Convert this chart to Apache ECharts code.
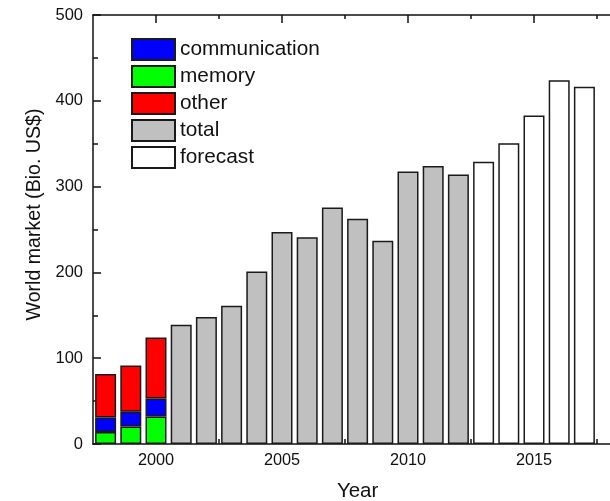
<!DOCTYPE html>
<html>
<head>
<meta charset="utf-8">
<script src="https://cdn.jsdelivr.net/npm/echarts@6/dist/echarts.min.js"></script>
<style>
  html, body { margin: 0; padding: 0; background: #fff; }
  #chart { width: 610px; height: 501px; }
</style>
</head>
<body>
<div id="chart"></div>
<script>
// Semiconductor world market by segment, billions of US$
const years = [1998, 1999, 2000, 2001, 2002, 2003, 2004, 2005, 2006, 2007,
               2008, 2009, 2010, 2011, 2012, 2013, 2014, 2015, 2016, 2017];
const memory        = [14, 20.5, 32, null, null, null, null, null, null, null, null, null, null, null, null, null, null, null, null, null];
const communication = [17, 17, 21, null, null, null, null, null, null, null, null, null, null, null, null, null, null, null, null, null];
const other         = [50.5, 54, 71, null, null, null, null, null, null, null, null, null, null, null, null, null, null, null, null, null];
const total         = [null, null, null, 139, 148, 161, 201, 247, 241, 275.5, 262.5, 237, 317.5, 324, 314, null, null, null, null, null];
const forecast      = [null, null, null, null, null, null, null, null, null, null, null, null, null, null, null, 329, 350.5, 383, 424, 416.5];

const yearTicks  = [2000, 2005, 2010, 2015];
const minorYears = [2002.5, 2007.5, 2012.5, 2017.5];

const FONT = 'Liberation Sans, Arial, sans-serif';
const INK = '#111';

// Plot box: bars live in grid 0 (one band per year), the framed year scale in grid 1
const PLOT = { left: 93, top: 15, bottom: 57, containLabel: false, outerBoundsMode: 'none' };
const YEAR_PX = 25.2;
const barsRight = 610 - (PLOT.left + years.length * YEAR_PX);
const scaleMin = years[0] - 0.5;
const scaleMax = 2018.5;
const scaleRight = 610 - (PLOT.left + (scaleMax - scaleMin) * YEAR_PX);

function barSeries(name, vals, color, stack) {
  return {
    name: name,
    type: 'bar',
    stack: stack,
    xAxisIndex: 0,
    yAxisIndex: 0,
    data: vals,
    barWidth: 21,
    barGap: '-100%',
    itemStyle: { color: color, borderColor: '#1a1a1a', borderWidth: 1.5 },
    emphasis: { disabled: true }
  };
}

const tickLine = { color: INK, width: 1.5 };
const yearAxis = (pos, extra) => Object.assign({
  type: 'value', gridIndex: 1, position: pos, min: scaleMin, max: scaleMax,
  axisLine: { show: false, onZero: false },
  axisLabel: { show: false },
  splitLine: { show: false }
}, extra);

const chart = echarts.init(document.getElementById('chart'), null, { renderer: 'canvas' });
chart.setOption({
  animation: false,
  backgroundColor: '#fff',
  grid: [
    Object.assign({ right: barsRight }, PLOT),
    Object.assign({ right: scaleRight }, PLOT)
  ],
  legend: {
    orient: 'vertical',
    left: 131,
    top: 38,
    padding: 0,
    itemWidth: 43,
    itemHeight: 21,
    itemGap: 4,
    icon: 'rect',
    selectedMode: false,
    data: ['communication', 'memory', 'other', 'total', 'forecast'],
    textStyle: { fontFamily: FONT, fontSize: 20.8, color: INK }
  },
  xAxis: [
    {
      type: 'category', gridIndex: 0, data: years, boundaryGap: true,
      axisLine: { show: false }, axisTick: { show: false },
      axisLabel: { show: false }, splitLine: { show: false }
    },
    yearAxis('bottom', {
      name: 'Year', nameLocation: 'middle', nameGap: 37,
      nameTextStyle: { fontFamily: FONT, fontSize: 20.5, color: INK },
      axisLine: { show: true, onZero: false, lineStyle: tickLine },
      axisTick: { show: true, inside: true, length: 9, customValues: yearTicks, lineStyle: tickLine },
      axisLabel: { show: true, customValues: yearTicks, margin: 9, formatter: v => String(v),
                   fontFamily: FONT, fontSize: 16.3, color: INK }
    }),
    yearAxis('bottom', {
      axisTick: { show: true, inside: true, length: 5, customValues: minorYears, lineStyle: tickLine }
    }),
    yearAxis('top', {
      axisLine: { show: true, onZero: false, lineStyle: tickLine },
      axisTick: { show: true, inside: true, length: 8, customValues: yearTicks, lineStyle: tickLine }
    }),
    yearAxis('top', {
      axisTick: { show: true, inside: true, length: 4, customValues: minorYears, lineStyle: tickLine }
    })
  ],
  yAxis: [
    {
      type: 'value', gridIndex: 0, min: 0, max: 500, interval: 100,
      axisLine: { show: false }, axisTick: { show: false },
      axisLabel: { show: false }, splitLine: { show: false }
    },
    {
      type: 'value', gridIndex: 1, min: 0, max: 500, interval: 100,
      name: 'World market (Bio. US$)', nameLocation: 'middle', nameGap: 42,
      nameTextStyle: { fontFamily: FONT, fontSize: 19.6, color: INK, padding: [0, 0, 0, 30] },
      axisLine: { show: true, onZero: false, lineStyle: tickLine },
      axisTick: { show: true, inside: true, length: 8, lineStyle: tickLine },
      minorTick: { show: true, splitNumber: 2, length: 5, lineStyle: tickLine },
      axisLabel: { margin: 10, fontFamily: FONT, fontSize: 16.5, color: INK },
      splitLine: { show: false },
      minorSplitLine: { show: false }
    }
  ],
  series: [
    barSeries('memory', memory, '#00ff00', 'parts'),
    barSeries('communication', communication, '#0000ff', 'parts'),
    barSeries('other', other, '#ff0000', 'parts'),
    barSeries('total', total, '#c0c0c0', 'total'),
    barSeries('forecast', forecast, '#ffffff', 'forecast')
  ]
});
</script>
</body>
</html>
